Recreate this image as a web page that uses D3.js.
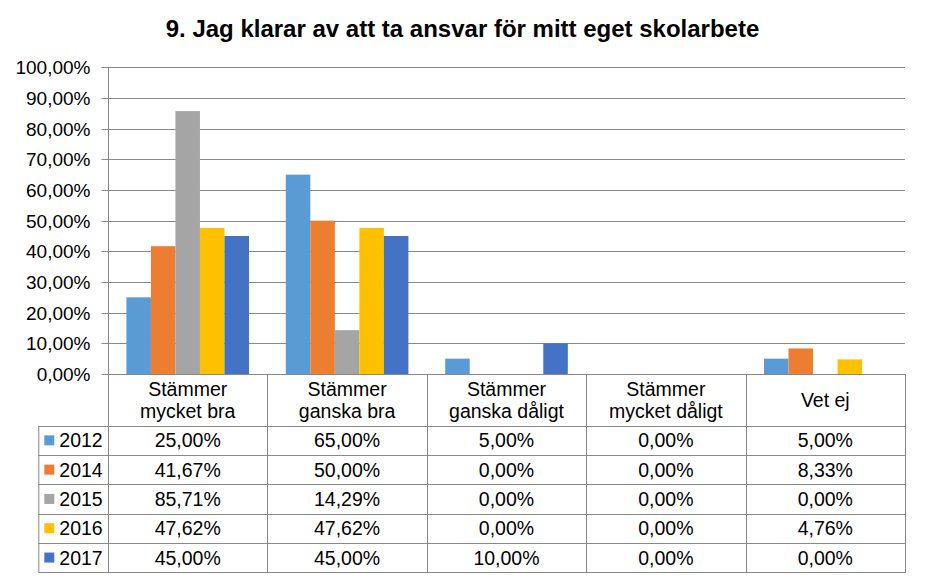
<!DOCTYPE html>
<html>
<head>
<meta charset="utf-8">
<script src="https://cdn.jsdelivr.net/npm/d3@7"></script>
<style>
  html, body { margin: 0; padding: 0; background: #fff; }
  svg { display: block; font-family: "Liberation Sans", Arial, sans-serif; }
</style>
</head>
<body>
<svg id="chart" width="927" height="581"></svg>
<script>
const title = "9. Jag klarar av att ta ansvar för mitt eget skolarbete";
const categories = [
  ["Stämmer", "mycket bra"],
  ["Stämmer", "ganska bra"],
  ["Stämmer", "ganska dåligt"],
  ["Stämmer", "mycket dåligt"],
  ["Vet ej"]
];
const years = ["2012", "2014", "2015", "2016", "2017"];
const v2012 = [25.00, 65.00, 5.00, 0.00, 5.00];
const v2014 = [41.67, 50.00, 0.00, 0.00, 8.33];
const v2015 = [85.71, 14.29, 0.00, 0.00, 0.00];
const v2016 = [47.62, 47.62, 0.00, 0.00, 4.76];
const v2017 = [45.00, 45.00, 10.00, 0.00, 0.00];
const yTicks = [0, 10, 20, 30, 40, 50, 60, 70, 80, 90, 100];
const colors = ["#5B9BD5", "#ED7D31", "#A5A5A5", "#FFC000", "#4472C4"];

const series = [v2012, v2014, v2015, v2016, v2017];

const svg = d3.select("#chart");
const pLeft = 108, pRight = 905, pTop = 67.3, pBottom = 374;
const headerH = 51.7, rowH = 29.3, legendLeft = 38.3;
const lineColor = "#888888";
const fs = 19;
const tfs = 19.5;

const locale = d3.formatLocale({decimal: ",", thousands: " ", grouping: [3], currency: ["", " kr"]});
const f2 = locale.format(".2f");
const pct = v => f2(v) + "%";

const catIdx = categories.map((c, i) => i);
const x = d3.scaleBand().domain(catIdx).range([pLeft, pRight]).paddingInner(0).paddingOuter(0);
const xi = d3.scaleBand().domain(years).range([0, x.bandwidth()]).paddingInner(0).paddingOuter(0.75);
const y = d3.scaleLinear().domain([0, 100]).range([pBottom, pTop]);

// title
svg.append("text")
  .attr("x", 462.5).attr("y", 37)
  .attr("text-anchor", "middle")
  .attr("font-size", 24).attr("font-weight", "bold")
  .attr("fill", "#000")
  .text(title);

// gridlines
svg.append("g").selectAll("line").data(yTicks.filter(t => t > 0)).join("line")
  .attr("x1", pLeft).attr("x2", pRight)
  .attr("y1", d => Math.round(y(d)) + 0.5).attr("y2", d => Math.round(y(d)) + 0.5)
  .attr("stroke", lineColor).attr("stroke-width", 1);

// y axis
const yAxis = d3.axisLeft(y).tickValues(yTicks).tickSize(7).tickPadding(11).tickFormat(pct);
const gy = svg.append("g").attr("transform", `translate(${pLeft + 0.5},0)`).call(yAxis);
gy.select(".domain").remove();
gy.selectAll(".tick line").attr("stroke", lineColor);
gy.selectAll(".tick text").attr("font-size", fs).attr("fill", "#000")
  .attr("font-family", '"Liberation Sans", Arial, sans-serif');
gy.selectAll(".tick").attr("transform", d => `translate(0,${Math.round(y(d)) + 0.5})`);

// bars
const barData = [];
series.forEach((s, si) => s.forEach((v, ci) => barData.push({si, ci, v})));
svg.append("g").selectAll("rect").data(barData).join("rect")
  .attr("x", d => x(d.ci) + xi(years[d.si]))
  .attr("width", xi.bandwidth())
  .attr("y", d => y(d.v))
  .attr("height", d => y(0) - y(d.v))
  .attr("fill", d => colors[d.si]);

// table
const tableBottom = pBottom + headerH + rowH * years.length;
const tg = svg.append("g");
tg.append("line").attr("x1", pLeft + 0.5).attr("x2", pLeft + 0.5)
  .attr("y1", pTop).attr("y2", tableBottom).attr("stroke", lineColor);
tg.selectAll("line.vsep").data(catIdx.slice(1).concat([categories.length])).join("line")
  .attr("class", "vsep")
  .attr("x1", d => d < categories.length ? Math.round(x(d)) + 0.5 : pRight + 0.5)
  .attr("x2", d => d < categories.length ? Math.round(x(d)) + 0.5 : pRight + 0.5)
  .attr("y1", pBottom).attr("y2", tableBottom).attr("stroke", lineColor);
tg.append("line").attr("x1", legendLeft + 0.5).attr("x2", legendLeft + 0.5)
  .attr("y1", pBottom + headerH).attr("y2", tableBottom).attr("stroke", lineColor);
tg.append("line").attr("x1", pLeft).attr("x2", pRight + 1)
  .attr("y1", pBottom + 0.5).attr("y2", pBottom + 0.5).attr("stroke", lineColor);
tg.selectAll("line.hsep").data(d3.range(years.length + 1)).join("line")
  .attr("class", "hsep")
  .attr("x1", legendLeft).attr("x2", pRight + 1)
  .attr("y1", d => Math.round(pBottom + headerH + d * rowH) + 0.5)
  .attr("y2", d => Math.round(pBottom + headerH + d * rowH) + 0.5)
  .attr("stroke", lineColor);

// header labels
categories.forEach((lines, ci) => {
  const cx = x(ci) + x.bandwidth() / 2;
  const cy = pBottom + headerH / 2;
  const lh = 22;
  const t = tg.append("text").attr("text-anchor", "middle").attr("font-size", tfs).attr("fill", "#000");
  lines.forEach((ln, li) => {
    const by = cy + (li - (lines.length - 1) / 2) * lh + 0.36 * tfs;
    t.append("tspan").attr("x", cx).attr("y", by).text(ln);
  });
});

// rows
years.forEach((yr, si) => {
  const cy = pBottom + headerH + si * rowH + rowH / 2;
  tg.append("rect").attr("x", legendLeft + 6).attr("y", cy - 5).attr("width", 10).attr("height", 10)
    .attr("fill", colors[si]);
  tg.append("text").attr("x", legendLeft + 21).attr("y", cy + 0.36 * tfs)
    .attr("font-size", tfs).attr("fill", "#000").text(yr);
  series[si].forEach((v, ci) => {
    tg.append("text").attr("x", x(ci) + x.bandwidth() / 2).attr("y", cy + 0.36 * tfs)
      .attr("text-anchor", "middle").attr("font-size", tfs).attr("fill", "#000").text(pct(v));
  });
});
</script>
</body>
</html>
